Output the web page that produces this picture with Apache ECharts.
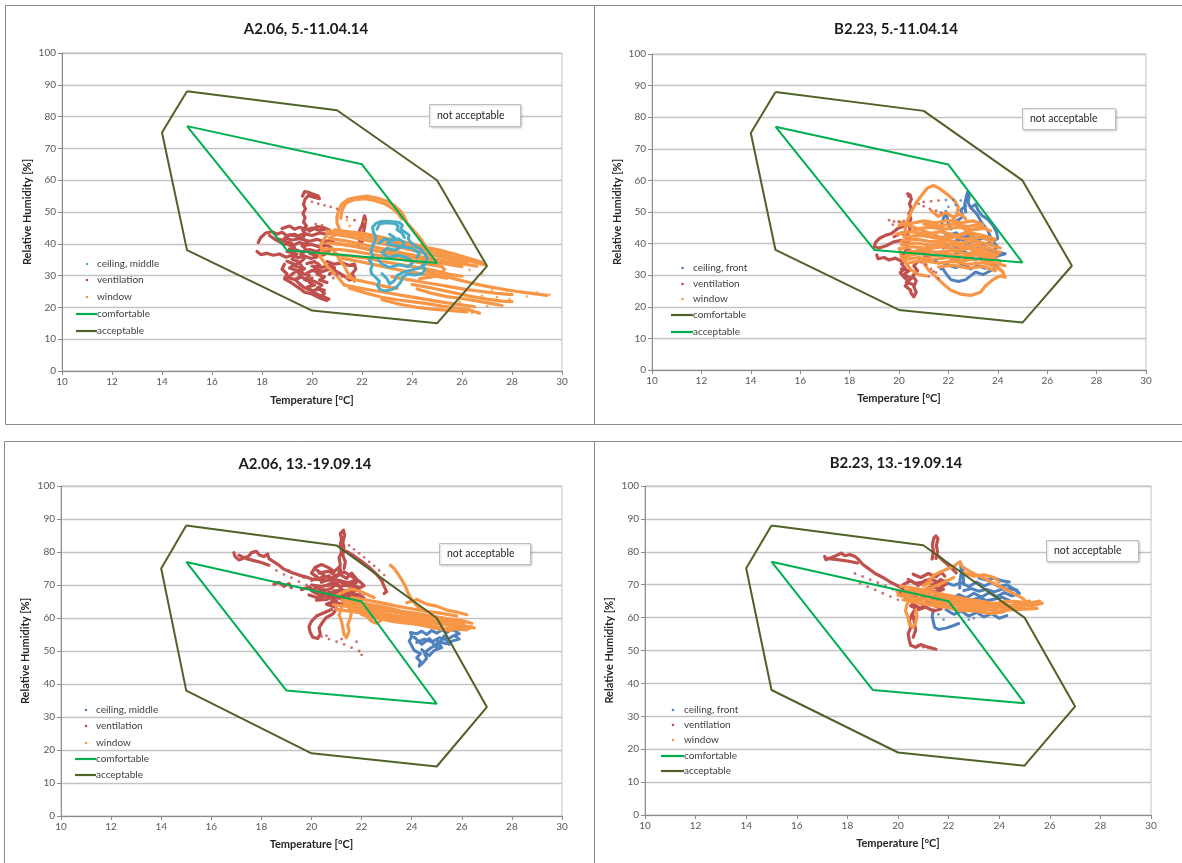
<!DOCTYPE html>
<html>
<head>
<meta charset="utf-8">
<script src="https://cdn.jsdelivr.net/npm/echarts@6/dist/echarts.min.js"></script>
<style>
html,body{margin:0;padding:0;background:#fff;}
#chart{width:1182px;height:863px;}
</style>
</head>
<body>
<div id="chart"></div>
<script>
// Comfort zones in the temperature / relative humidity plane
const comfortableZone = [[15,77],[22,65],[25,34],[19,38],[15,77]];
const acceptableZone  = [[15,88],[21,82],[25,60],[27,33],[25,15],[20,19],[15,38],[14,75],[15,88]];

const xRange = [10, 30, 2];
const yRange = [0, 100, 10];

// ---------- A2.06, 5.-11.04.14 : measured trajectories [°C, %] ----------
const ceilA_apr = [
  [[22.45,43.8],[22.42,45.2],[22.55,46.4],[22.75,47.0],[23.0,47.1],[23.25,46.9],[23.5,46.7],[23.62,45.8],[23.55,44.6],[23.7,43.8],[23.88,42.8],[23.85,41.6],[23.95,40.4],[24.15,39.2],[24.35,38.2],[24.5,37.0],[24.6,35.6],[24.58,34.2],[24.45,33.0],[24.52,31.8],[24.4,30.6],[24.1,30.2],[23.8,30.5],[23.62,29.4],[23.55,28.0],[23.4,26.6],[23.2,25.6],[22.95,25.2],[22.72,25.6],[22.62,26.8],[22.7,28.2],[22.55,29.4],[22.38,30.6],[22.35,32.0],[22.42,33.4],[22.3,34.8],[22.45,36.2],[22.35,37.6],[22.42,39.2],[22.5,40.6],[22.55,42.2],[22.45,43.8]],
  [[22.6,44.6],[22.7,46.2],[22.95,46.6],[23.3,46.4],[23.45,45.6],[23.4,44.4],[23.6,43.4],[23.7,42.0]],
  [[22.7,40.2],[22.9,41.6],[23.2,41.0],[23.45,41.6],[23.7,40.4],[23.6,39.0],[23.3,38.0],[23.0,38.6],[22.8,37.2],[23.05,35.8],[23.45,36.4],[23.8,35.6],[24.05,34.2],[23.85,32.8],[23.5,33.4],[23.1,32.6],[22.8,33.6],[22.65,35.0]],
  [[22.8,30.6],[23.0,29.0],[23.1,27.4],[23.3,28.4],[23.4,30.0],[23.7,31.2],[24.0,31.8],[24.3,32.4],[24.5,33.6]],
  [[23.1,43.0],[23.3,42.0],[23.0,40.0],[23.5,39.2],[24.0,38.6],[24.3,37.0],[24.2,35.8]]
];
const ventA_apr = [
  [[19.62,55.0],[19.7,56.4],[19.85,56.2],[20.05,55.6],[20.25,55.0],[20.3,54.2],[20.1,54.6],[19.85,55.2],[19.72,54.0],[19.66,52.4],[19.74,51.0],[19.64,49.6],[19.72,48.2],[19.66,46.8],[19.78,45.6],[19.62,44.4],[19.74,43.0],[19.6,41.8],[19.82,40.6],[19.64,39.2],[19.78,38.0],[19.55,36.6],[19.7,35.4],[19.5,34.0],[19.62,32.6],[19.42,31.2],[19.55,30.0],[19.35,28.6],[19.5,27.4],[19.7,26.2],[19.95,25.4],[20.1,24.6],[20.3,23.8],[20.5,23.2],[20.68,22.6]],
  [[18.8,44.8],[19.1,45.6],[19.3,44.6],[19.5,45.2],[19.8,44.4],[20.0,45.0],[20.3,44.2],[20.6,44.6],[20.8,43.8],[20.6,43.0],[20.3,43.4],[20.0,42.6],[19.7,43.2],[19.4,42.4],[19.1,42.8],[18.9,41.8],[19.2,41.2],[19.5,41.6],[19.9,40.8],[20.2,41.4],[20.5,40.6],[20.75,41.2],[20.9,40.2]],
  [[17.85,40.4],[17.95,42.0],[18.15,43.4],[18.4,43.8],[18.6,43.0],[18.8,43.6],[19.0,42.6],[19.3,43.0],[19.5,42.2]],
  [[18.3,42.6],[18.5,41.5],[18.7,40.6],[18.9,39.8],[19.1,40.4],[19.3,39.6]],
  [[17.8,37.6],[17.95,36.6],[18.2,37.0],[18.45,36.4],[18.7,36.8],[18.95,35.8],[19.2,36.4],[19.45,35.6],[19.7,36.2],[19.95,35.4],[20.2,35.9]],
  [[19.0,34.5],[19.3,33.6],[19.1,32.4],[19.4,31.6],[19.2,30.4],[19.0,29.4],[19.3,28.8],[19.6,29.6],[19.8,28.4],[20.0,29.2],[19.9,27.8],[20.1,27.0],[19.8,26.4],[20.0,25.2],[20.3,25.8],[20.5,24.4],[20.35,23.4],[20.6,22.8]],
  [[19.8,33.8],[20.1,34.4],[20.3,33.4],[20.1,32.2],[20.4,31.4],[20.2,30.4],[20.5,29.6],[20.3,28.6],[20.6,27.8]],
  [[19.1,38.4],[19.4,38.0],[19.6,37.4],[19.9,38.2],[20.2,37.6],[20.4,38.4],[20.6,37.2]],
  [[20.6,34.4],[20.9,33.6],[21.2,34.0],[21.5,33.2],[21.7,33.6],[21.75,32.0],[21.6,30.6],[21.7,29.2],[21.5,28.6],[21.3,29.8],[21.1,30.8],[20.9,31.6],[20.7,30.4]],
  [[21.85,39.4],[21.9,41.0],[21.95,42.6],[21.9,44.2],[22.0,45.8],[22.05,47.2],[22.1,48.8],[22.15,47.6],[22.1,45.4],[22.05,43.0],[22.0,40.6]],
  [[19.0,40.0],[19.3,38.8],[19.0,37.6],[19.4,36.8],[19.2,35.2],[19.5,34.2],[19.3,33.0],[19.7,32.2],[19.5,31.0],[19.9,30.0],[19.7,28.8],[20.1,28.2],[20.4,27.0],[20.2,26.0],[20.5,25.4]],
  [[18.9,33.6],[18.8,32.0],[19.0,30.6],[18.9,29.0],[19.2,27.6],[19.5,26.0],[19.7,24.8],[20.0,24.2],[20.3,23.0],[20.6,22.2]],
  [[19.6,39.4],[20.0,39.8],[20.3,39.0],[20.6,39.6],[20.8,38.6],[20.5,36.6],[20.2,36.2],[19.9,37.0]],
  [[20.0,33.0],[20.4,32.6],[20.7,33.2],[20.9,32.4],[20.6,31.8],[20.3,31.0],[20.0,31.6],[19.8,30.8]],
  [[18.6,41.6],[18.9,41.0],[19.2,39.4],[19.5,40.4],[19.8,39.6]],
  [[19.9,44.0],[20.2,45.4],[20.5,45.0],[20.7,44.2]]
];
const ventA_aprDots = [[20.0,53.2],[20.25,52.6],[20.5,52.1],[20.75,51.6],[21.0,51.0],[20.15,46.2],[20.4,45.9],[20.7,30.6],[21.0,30.3],[20.85,29.2],[21.2,29.6],[21.4,48.4],[21.7,47.4],[20.9,32.5],[20.2,31.0],[20.45,29.0]];
const winA_apr = [
  [[21.0,48.6],[21.08,50.8],[21.2,52.6],[21.45,54.0],[21.8,54.6],[22.2,55.0],[22.6,54.4],[23.0,53.4],[23.3,52.0],[23.55,50.2],[23.7,48.4],[23.8,46.6],[24.0,44.8],[24.2,43.0],[24.4,41.0],[24.55,39.2],[24.7,37.6]],
  [[21.15,48.0],[21.2,50.5],[21.35,52.8],[21.7,53.9],[22.1,54.2],[22.5,53.6],[22.9,52.6],[23.2,51.2],[23.45,49.4],[23.6,47.8]],
  [[21.0,48.6],[21.0,46.6],[21.1,44.6],[20.95,43.0],[20.7,41.8]],
  [[20.6,44.0],[21.2,43.6],[21.8,42.8],[22.4,41.8],[23.0,40.8],[23.6,39.8],[24.2,38.8],[24.8,37.6],[25.4,36.4],[26.0,35.2],[26.6,34.0],[26.9,33.4]],
  [[20.8,43.0],[21.4,42.4],[22.0,41.4],[22.6,40.4],[23.2,39.4],[23.8,38.4],[24.4,37.2],[25.0,36.2],[25.6,35.2],[26.2,34.2]],
  [[20.7,41.6],[21.3,41.0],[21.9,40.0],[22.5,39.0],[23.1,38.0],[23.7,37.0],[24.3,36.0],[24.9,35.2],[25.5,34.4],[26.1,33.6],[26.6,33.0]],
  [[20.9,40.2],[21.5,39.6],[22.1,38.6],[22.7,37.6],[23.3,36.6],[23.9,35.8],[24.5,35.0],[25.1,34.2]],
  [[20.5,38.4],[21.1,38.2],[21.7,37.6],[22.3,36.8],[22.9,36.0],[23.5,35.2],[24.1,34.4],[24.6,33.6],[25.2,32.8]],
  [[20.4,37.2],[20.9,36.6],[21.5,36.2],[22.1,35.6],[22.7,34.6],[23.3,33.8],[23.9,33.0],[24.5,32.2],[25.0,31.4],[25.5,30.4],[26.0,29.8]],
  [[20.65,43.4],[20.5,41.6],[20.35,39.8],[20.4,38.0],[20.3,36.2],[20.45,34.6],[20.6,33.0],[20.8,31.4],[21.0,29.8],[21.15,28.4],[21.3,27.0]],
  [[20.8,38.4],[21.0,36.6],[21.1,34.8],[21.3,33.0],[21.4,31.2],[21.55,29.6],[21.7,28.2]],
  [[21.3,27.0],[21.8,26.2],[22.4,25.4],[23.0,24.6],[23.6,23.8],[24.2,23.0],[24.8,22.2],[25.4,21.4],[26.0,20.8],[26.5,20.2]],
  [[21.5,26.0],[22.2,24.4],[22.8,23.2],[23.4,22.4],[24.0,21.8],[24.6,21.2],[25.2,20.4],[25.8,19.8],[26.3,19.2],[26.7,18.2]],
  [[22.8,22.4],[23.5,21.0],[24.2,20.0],[24.9,19.4],[25.6,19.0],[26.2,18.6]],
  [[23.2,29.6],[23.8,28.8],[24.4,28.0],[25.0,27.2],[25.6,26.4],[26.2,25.6],[26.8,25.0],[27.4,24.4],[28.0,24.0]],
  [[24.6,31.2],[25.2,30.0],[25.8,28.8],[26.4,27.6],[27.0,26.6],[27.6,25.8],[28.2,25.0],[28.8,24.4],[29.4,23.8]],
  [[24.0,27.2],[24.6,26.4],[25.2,25.4],[25.8,24.4],[26.4,23.4],[27.0,22.6],[27.6,22.0],[28.0,21.8]],
  [[24.2,25.8],[24.8,24.4],[25.4,23.4],[26.0,22.8],[26.6,22.0],[27.2,21.2],[27.6,20.6]],
  [[24.6,36.0],[25.0,34.0],[25.3,32.0],[25.2,30.4],[24.8,29.6],[24.3,29.0]],
  [[21.4,29.6],[21.9,28.4],[22.4,27.6],[22.9,26.6],[23.4,26.0]],
  [[20.9,44.4],[21.5,43.8],[22.1,43.2],[22.7,42.2],[23.3,41.2],[23.9,40.2],[24.5,39.0],[25.1,38.0],[25.7,36.8],[26.3,35.4],[26.8,34.2]],
  [[20.6,40.2],[21.2,39.8],[21.8,39.0],[22.4,38.0],[23.0,37.2],[23.6,36.2],[24.2,35.6],[24.8,34.6],[25.4,33.6],[26.0,32.8]],
  [[21.2,35.4],[21.8,34.6],[22.4,33.6],[23.0,32.6],[23.6,31.6],[24.2,30.8],[24.8,30.0],[25.4,29.2]]
];
const winA_aprDots = [[27.2,25.6],[27.8,25.2],[28.4,24.8],[29.0,24.6],[29.5,24.0],[27.9,22.6],[27.0,20.4],[26.4,18.2],[25.9,21.8],[26.8,23.6],[28.6,23.4],[27.4,23.2],[21.5,45.6],[21.4,47.4],[22.1,47.0],[26.3,31.8],[26.8,30.6]];

// ---------- B2.23, 5.-11.04.14 ----------
const ceilB_apr = [
  [[22.7,50.0],[22.66,52.4],[22.72,54.6],[22.78,56.4],[22.84,55.0],[22.8,53.0],[22.9,51.4],[23.05,50.2],[23.2,48.8],[23.3,47.2],[23.45,45.6],[23.6,44.0],[23.7,42.2]],
  [[21.75,44.0],[21.72,46.0],[21.8,48.0],[21.9,50.2],[21.95,48.4],[22.0,46.4],[22.1,44.6]],
  [[21.7,44.0],[22.0,42.6],[22.3,43.4],[22.6,41.8],[22.9,42.8],[23.2,41.2],[23.5,42.0],[23.8,40.6],[24.0,39.0],[23.8,37.6],[24.1,37.0],[24.3,36.8],[24.0,36.2],[23.7,35.4],[23.4,36.2],[23.1,34.8],[22.8,35.6],[22.5,34.0],[22.2,35.0],[21.9,33.6],[21.7,32.0]],
  [[21.8,38.6],[22.1,39.8],[22.4,38.4],[22.7,39.4],[23.0,38.0],[23.3,38.8],[23.6,37.2],[23.9,38.2]],
  [[21.8,31.8],[21.95,30.0],[22.1,28.6],[22.4,28.0],[22.7,28.6],[22.9,29.8],[23.1,31.0],[23.4,30.2],[23.7,31.4],[24.0,32.6],[23.8,34.0]],
  [[22.9,51.4],[23.1,52.4],[23.2,50.6],[23.35,49.0],[23.6,47.6],[23.8,45.8],[23.95,43.6],[24.0,41.6],[23.75,40.4]],
  [[23.6,38.4],[23.9,37.4],[24.25,36.8],[23.95,36.0],[23.7,35.2]],
  [[22.2,40.6],[22.5,41.4],[22.8,40.2],[23.1,41.0],[23.4,39.6],[23.7,40.2]],
  [[22.3,36.8],[22.6,37.6],[22.9,36.4],[23.2,37.2],[23.5,36.0],[23.8,36.6]],
  [[22.0,33.2],[22.3,32.4],[22.6,33.4],[22.9,32.0],[23.2,33.0],[23.5,32.2]],
  [[22.3,47.0],[22.6,48.6],[22.5,50.6],[22.7,52.0]]
];
const ceilB_aprDots = [[21.9,53.8],[22.2,53.8],[22.5,53.6],[22.3,52.2],[22.0,51.6],[21.6,36.4],[21.5,34.6]];
const ventB_apr = [
  [[20.4,55.0],[20.35,55.8],[20.45,55.4],[20.5,54.0],[20.42,52.6],[20.5,51.0],[20.4,49.4],[20.48,47.8],[20.38,46.2],[20.45,44.6],[20.35,43.0],[20.45,41.4],[20.3,39.8],[20.4,38.2]],
  [[20.2,45.6],[19.95,44.8],[19.7,43.2],[19.45,42.6],[19.2,41.6],[19.05,40.4],[19.0,39.0],[19.2,38.6],[19.5,39.4],[19.8,40.6],[20.1,41.0],[20.3,40.2]],
  [[19.1,36.4],[19.15,35.2],[19.4,35.6],[19.6,34.8],[19.85,35.4],[20.05,34.6],[20.25,35.2]],
  [[20.3,38.0],[20.15,36.6],[20.3,35.0],[20.1,33.6],[20.25,32.2],[20.05,30.8],[20.2,29.4],[20.4,28.0],[20.25,26.6],[20.45,25.4],[20.5,24.2],[20.6,23.2],[20.7,24.6],[20.6,26.4],[20.7,28.2],[20.55,29.8],[20.75,31.4],[20.6,33.0],[20.8,34.6]],
  [[20.5,37.6],[20.8,36.8],[21.1,37.4],[21.3,36.2],[21.0,35.4],[20.9,34.2]],
  [[20.1,32.0],[20.4,31.4],[20.2,30.2],[20.5,29.0],[20.3,27.8],[20.6,27.0]],
  [[19.8,42.2],[20.1,43.4],[20.3,42.0]]
];
const ventB_aprDots = [[19.6,47.4],[19.8,47.0],[20.0,46.8],[19.75,46.0],[20.2,47.2],[20.8,52.6],[21.0,51.8],[21.25,51.0],[21.5,50.4],[21.7,49.8],[21.1,33.4],[21.3,32.0],[21.5,30.8],[21.2,29.6],[21.6,29.0],[21.4,31.2],[21.0,53.2],[21.3,53.4],[21.6,53.6]];
const winB_apr = [
  [[20.2,42.0],[20.25,44.6],[20.35,47.4],[20.5,50.2],[20.7,53.0],[20.95,55.6],[21.15,57.6],[21.4,58.4],[21.65,57.4],[21.95,55.6],[22.25,53.6],[22.4,51.6],[22.35,49.4],[22.2,47.6]],
  [[20.0,45.8],[20.5,46.4],[21.0,47.2],[21.5,46.6],[22.0,47.4],[22.5,46.6],[23.0,47.2],[23.4,46.0]],
  [[19.9,43.0],[20.5,43.8],[21.1,43.0],[21.7,43.8],[22.3,42.6],[22.9,43.4],[23.5,42.4],[23.9,41.4]],
  [[20.1,40.8],[20.7,41.4],[21.3,40.6],[21.9,41.2],[22.5,40.2],[23.1,40.8],[23.7,39.6],[24.1,38.6]],
  [[20.0,38.4],[20.6,39.0],[21.2,38.4],[21.8,39.0],[22.4,38.0],[23.0,38.6],[23.6,37.4],[24.0,36.4]],
  [[20.2,36.0],[20.8,36.8],[21.4,36.2],[22.0,36.8],[22.6,35.8],[23.2,36.4],[23.8,35.0]],
  [[20.4,34.0],[21.0,34.6],[21.6,33.8],[22.2,34.4],[22.8,33.4],[23.4,34.0],[23.9,32.6],[24.2,31.2]],
  [[20.6,44.4],[21.2,45.2],[21.8,44.6],[22.4,45.2],[23.0,44.4],[23.5,44.8]],
  [[20.0,47.0],[20.6,45.2],[21.2,43.4],[21.8,41.6],[22.4,39.8],[23.0,38.0],[23.6,36.2],[24.1,34.4]],
  [[20.3,36.6],[21.0,38.4],[21.6,40.2],[22.2,42.0],[22.8,43.8],[23.3,45.4],[23.7,44.0]],
  [[21.0,33.8],[21.2,31.6],[21.5,29.4],[21.8,27.2],[22.1,25.2],[22.5,24.0],[22.9,23.6],[23.3,24.6],[23.5,26.6],[23.8,28.6],[24.1,29.8],[24.3,29.4],[24.2,31.0],[24.0,32.6]],
  [[20.05,37.8],[20.1,35.6],[20.3,33.6],[20.5,31.6],[20.8,30.2],[21.1,29.8]],
  [[21.3,50.4],[21.6,48.6],[21.9,49.8],[22.2,48.4],[22.5,49.4],[22.7,47.8]],
  [[20.3,42.2],[20.9,42.6],[21.5,41.8],[22.1,42.4],[22.7,41.4],[23.3,42.0],[23.8,40.6]],
  [[20.1,39.6],[20.7,40.2],[21.3,39.4],[21.9,40.0],[22.5,39.0],[23.1,39.6],[23.7,38.4],[24.1,37.2]],
  [[20.3,37.2],[20.9,37.8],[21.5,37.2],[22.1,37.8],[22.7,36.8],[23.3,37.4],[23.9,36.2]],
  [[20.2,35.0],[20.8,35.6],[21.4,35.0],[22.0,35.6],[22.6,34.6],[23.2,35.2],[23.8,34.0],[24.3,33.0]],
  [[21.0,46.2],[21.6,45.6],[22.2,46.2],[22.8,45.4],[23.2,46.0]],
  [[22.2,47.6],[22.6,45.0],[23.0,42.0],[23.3,39.0],[23.6,36.0],[23.8,33.2]],
  [[21.6,32.6],[22.2,33.2],[22.8,32.2],[23.4,32.8],[23.9,31.4]]
];

// ---------- A2.06, 13.-19.09.14 ----------
const ceilA_sep = [
  [[24.3,45.4],[24.35,46.8],[24.2,48.0],[24.35,49.2],[24.1,50.2],[24.0,51.6],[23.9,53.0],[24.0,54.4],[23.95,55.6],[24.2,55.2],[24.4,56.0],[24.6,55.0],[24.8,56.2],[25.0,55.4],[25.2,56.4],[25.4,55.6],[25.6,56.6],[25.85,55.6],[25.75,54.4],[25.9,53.6],[25.6,53.0],[25.4,52.2],[25.1,52.8],[24.9,51.6],[24.7,50.6],[24.5,49.4],[24.6,47.8],[24.45,46.4],[24.3,45.4]],
  [[24.2,52.6],[24.5,53.6],[24.8,52.8],[25.1,54.0],[25.4,53.4],[25.7,54.8],[25.9,55.2]],
  [[24.1,54.2],[24.4,52.0],[24.7,53.8],[25.0,51.0],[25.3,54.6],[25.5,52.0]],
  [[24.4,50.4],[24.7,48.6],[24.9,50.2],[25.2,51.0],[25.0,53.2]]
];
const ventA_sep = [
  [[16.9,79.8],[16.95,78.6],[17.1,77.6],[17.3,78.2],[17.5,78.8],[17.6,79.8],[17.8,80.2],[17.9,79.2],[18.1,78.6],[18.25,79.4],[18.3,78.0],[18.5,77.0],[18.7,76.0],[18.9,74.8],[19.2,73.8],[19.5,73.0],[19.8,72.4],[20.1,71.6]],
  [[17.1,79.0],[17.4,78.0],[17.7,77.4],[18.0,76.8],[18.3,76.0]],
  [[18.5,70.2],[18.7,70.8],[18.9,69.6],[19.1,70.4],[19.2,69.2]],
  [[20.2,74.6],[20.5,73.0],[20.3,71.6],[20.7,72.8],[20.9,71.0],[20.6,69.8],[21.0,70.4],[21.2,68.8],[20.9,67.6],[21.3,67.0],[21.5,68.6],[21.7,67.2],[21.4,65.8],[21.0,66.4],[20.8,65.0],[21.2,64.2],[21.5,64.8],[21.8,63.8]],
  [[20.4,70.8],[20.8,72.0],[21.1,73.4],[21.4,72.0],[21.6,73.6],[21.8,71.8],[21.5,70.6],[21.8,69.4],[21.4,69.8],[21.1,71.2],[20.8,69.0],[20.5,68.2],[20.2,69.2],[20.0,68.2],[20.3,67.0],[20.7,66.4],[21.0,65.2],[20.6,64.2],[20.9,63.4]],
  [[20.0,70.0],[20.4,69.6],[20.8,70.2],[21.2,69.6],[21.6,70.4],[21.9,69.2],[21.7,68.0],[21.3,68.4],[20.9,68.2],[20.5,66.6],[20.2,65.4],[20.6,65.6],[21.0,67.0],[21.4,66.6],[21.8,66.2],[22.0,65.4]],
  [[19.9,67.0],[20.3,66.0],[20.7,67.8],[21.1,66.0],[21.5,67.4],[21.9,67.0],[22.1,66.0]],
  [[20.3,72.0],[20.0,73.6],[20.15,75.4],[20.4,76.2],[20.7,75.2],[20.9,74.0],[21.1,75.4],[21.2,73.6]],
  [[21.1,74.0],[21.15,76.2],[21.1,78.2],[21.2,80.0],[21.15,82.0],[21.2,84.0],[21.15,85.6],[21.28,86.6],[21.32,85.0],[21.25,83.0],[21.3,81.2],[21.25,79.0],[21.35,77.0],[21.3,75.0]],
  [[21.4,80.2],[21.7,78.8],[22.0,77.2],[22.3,75.4],[22.6,73.2],[22.8,71.4],[22.9,69.6],[23.0,68.0],[22.9,67.4]],
  [[20.8,62.6],[20.5,61.6],[20.2,60.6],[20.0,59.0],[19.9,57.4],[19.95,55.6],[20.05,54.2],[20.25,53.8],[20.35,55.2],[20.3,57.0],[20.45,58.8],[20.6,60.2],[20.85,61.2],[21.0,62.8]],
  [[20.3,73.6],[20.7,74.2],[21.0,72.6],[21.3,74.0],[21.6,72.6],[21.9,71.2],[22.1,69.8],[21.8,68.6],[22.1,67.4]],
  [[20.1,71.8],[20.6,71.4],[21.0,71.6],[21.4,70.8],[21.8,70.8]],
  [[20.4,67.4],[20.8,66.8],[21.2,65.8],[21.6,65.4],[21.9,64.4],[22.2,63.6]],
  [[19.6,68.6],[19.9,69.4],[20.2,67.8],[20.5,68.6]]
];
const ventA_sepDots = [[18.6,74.4],[18.9,73.2],[19.2,72.2],[19.5,71.0],[19.8,70.0],[20.1,68.8],[18.8,75.4],[19.1,74.4],[19.4,73.4],[19.7,72.2],[20.0,71.2],[20.4,54.4],[20.7,53.6],[21.0,52.8],[21.3,52.0],[21.6,51.0],[21.9,50.0],[22.0,48.8],[20.6,54.6],[21.2,53.6],[21.8,52.8],[21.5,82.0],[21.7,80.8],[21.9,79.6],[22.1,78.4],[22.3,77.0],[22.5,75.8],[22.7,74.4],[22.9,73.0]];
const winA_sep = [
  [[20.9,64.0],[21.5,63.4],[22.1,62.6],[22.7,61.6],[23.3,60.8],[23.9,59.8],[24.5,59.0],[25.1,58.2],[25.7,57.8],[26.3,57.4],[26.5,57.0]],
  [[21.0,62.6],[21.6,62.0],[22.2,61.2],[22.8,60.4],[23.4,59.8],[24.0,59.0],[24.6,58.0],[25.2,57.0],[25.8,56.6],[26.2,56.4]],
  [[21.2,65.4],[21.8,64.8],[22.4,64.0],[23.0,63.2],[23.6,62.0],[24.2,61.4],[24.8,60.6],[25.4,59.8],[26.0,59.2],[26.4,58.4]],
  [[21.4,63.8],[22.0,63.6],[22.6,62.4],[23.2,62.0],[23.8,61.0],[24.4,60.2],[25.0,60.0],[25.6,59.0],[26.1,58.6]],
  [[22.0,61.0],[22.6,60.0],[23.2,59.0],[23.8,58.6],[24.4,57.8],[25.0,56.8],[25.6,56.2]],
  [[21.6,66.2],[22.2,65.4],[22.8,64.6],[23.4,63.6],[24.0,62.8],[24.6,62.0],[25.2,61.4],[25.8,60.6]],
  [[23.15,76.0],[23.3,75.0],[23.45,73.4],[23.6,71.6],[23.75,69.6],[23.85,67.6],[24.0,65.6],[24.2,63.8],[24.4,62.4]],
  [[21.0,66.8],[21.3,68.0],[21.6,68.8],[21.9,68.2],[22.2,67.2],[22.5,66.2]],
  [[21.2,63.0],[21.1,61.0],[21.2,59.0],[21.25,57.0],[21.3,55.0],[21.4,54.0],[21.5,56.0],[21.45,58.0],[21.55,60.0],[21.6,62.0]],
  [[22.1,62.0],[22.2,60.4],[22.4,59.0],[22.6,58.4],[22.8,59.4],[22.7,60.8]],
  [[23.8,64.6],[24.2,65.6],[24.6,64.2],[25.0,63.6],[25.4,62.4],[25.8,61.8],[26.2,61.0]],
  [[21.3,64.6],[21.9,63.8],[22.5,63.2],[23.1,62.4],[23.7,61.4],[24.3,60.8],[24.9,59.4],[25.5,58.8],[26.1,57.8]],
  [[21.5,62.8],[22.1,62.2],[22.7,61.2],[23.3,60.2],[23.9,60.4],[24.5,59.6],[25.1,58.6],[25.7,57.4],[26.3,56.8]],
  [[22.4,60.2],[23.0,59.6],[23.6,58.6],[24.2,58.2],[24.8,57.4]]
];

// ---------- B2.23, 13.-19.09.14 ----------
const ceilB_sep = [
  [[22.44,69.0],[22.45,71.4],[22.5,73.6],[22.48,75.8],[22.56,74.6],[22.58,72.2],[22.6,70.0]],
  [[21.9,70.6],[22.2,69.8],[22.5,70.6],[22.8,69.4],[23.1,70.8],[23.4,69.6],[23.7,70.6],[24.0,69.4],[24.3,70.0],[24.6,68.6],[24.8,67.4],[24.5,66.6],[24.2,67.6],[23.9,66.4],[23.6,67.6],[23.3,66.2],[23.0,67.4],[22.7,66.0],[22.4,67.0],[22.1,65.6],[21.8,66.6]],
  [[21.8,64.6],[22.1,63.4],[22.4,64.6],[22.7,63.2],[23.0,64.6],[23.3,63.0],[23.6,64.4],[23.9,62.8],[24.2,64.0],[24.5,62.6],[24.8,63.4]],
  [[21.9,62.4],[22.2,61.0],[22.5,62.0],[22.8,60.4],[23.1,61.6],[23.4,60.2],[23.7,61.2],[24.0,59.8],[24.3,60.6]],
  [[22.6,68.2],[22.9,68.8],[23.2,68.0],[23.5,68.6],[23.8,67.8],[24.1,68.6],[24.4,68.8],[24.7,68.4]],
  [[23.2,72.0],[23.5,71.4],[23.8,72.0],[24.1,71.2],[24.4,70.8]],
  [[21.4,62.4],[21.35,60.4],[21.4,58.6],[21.45,57.0],[21.6,56.4],[21.9,56.8],[22.2,57.6],[22.4,58.2]],
  [[22.9,65.4],[23.2,66.0],[23.5,65.2],[23.8,65.6],[24.1,66.2],[24.4,65.2]]
];
const ceilB_sepDots = [[22.6,58.8],[22.8,59.4],[23.0,59.8],[21.6,61.0],[21.8,59.4]];
const ventB_sep = [
  [[17.1,78.6],[17.15,77.6],[17.35,78.2],[17.55,78.8],[17.75,79.6],[17.9,78.8],[18.1,79.2],[18.3,78.6],[18.45,77.6],[18.6,76.2],[18.85,74.8],[19.1,73.4],[19.4,72.2],[19.7,70.8],[20.0,69.6],[20.2,68.8]],
  [[17.2,78.0],[17.6,77.6],[18.0,77.2],[18.4,76.6]],
  [[21.35,77.8],[21.4,80.0],[21.36,82.2],[21.42,84.2],[21.5,84.8],[21.58,84.0],[21.52,82.0],[21.56,80.0],[21.5,78.0]],
  [[21.55,79.0],[21.75,77.6],[21.95,76.2],[22.15,74.8],[22.3,73.6]],
  [[20.2,70.0],[20.5,71.2],[20.8,69.8],[21.1,71.4],[21.4,70.0],[21.7,71.6],[21.9,70.2],[21.6,68.8],[21.3,69.4],[21.0,68.2],[20.7,68.8],[20.4,67.6],[20.7,66.8],[21.0,67.4],[21.3,66.2],[21.6,67.0],[21.9,65.8],[21.6,64.6],[21.3,65.2],[21.0,64.0],[20.7,64.8],[20.5,63.6],[20.8,62.4],[21.1,63.2],[21.4,62.0],[21.7,62.6]],
  [[20.6,73.2],[20.9,72.2],[21.2,73.4],[21.5,72.4],[21.7,73.8],[21.85,72.6]],
  [[20.3,65.8],[20.6,66.4],[20.9,65.6],[21.2,66.8],[21.5,65.4],[21.8,66.2],[22.0,64.4]],
  [[20.7,62.8],[20.55,61.0],[20.45,59.0],[20.5,57.0],[20.4,55.0],[20.45,53.0],[20.5,51.6],[20.7,51.0],[20.9,51.8],[21.1,51.2],[21.3,50.8],[21.5,50.4]],
  [[20.6,60.6],[20.65,58.4],[20.7,56.2],[20.6,54.0]],
  [[20.4,71.6],[20.7,70.4],[21.0,70.8],[21.3,71.8],[21.6,70.6],[21.9,71.2]],
  [[20.5,68.2],[20.9,67.0],[21.2,68.4],[21.5,67.8],[21.8,68.6]],
  [[20.6,64.0],[20.9,62.8],[21.2,64.6],[21.5,63.4],[21.8,64.0]]
];
const ventB_sepDots = [[18.3,73.4],[18.6,72.5],[18.9,71.5],[19.2,70.6],[19.5,69.6],[19.8,68.6],[20.1,67.6],[18.5,70.4],[18.8,69.4],[19.1,68.4],[19.4,67.4],[19.7,66.4],[20.0,65.4],[20.8,51.6],[21.0,51.0],[21.2,50.8]];
const winB_sep = [
  [[19.95,68.0],[20.4,67.4],[20.9,66.8],[21.4,66.0],[21.9,65.2],[22.4,64.4],[22.9,63.8],[23.4,63.4],[23.9,63.0],[24.4,62.8],[24.9,63.4],[25.4,63.8],[25.7,64.4]],
  [[20.0,66.8],[20.5,66.0],[21.0,65.6],[21.5,64.8],[22.0,64.2],[22.5,63.6],[23.0,63.0],[23.5,62.4],[24.0,62.0],[24.5,62.4],[25.0,62.6],[25.5,62.8]],
  [[20.1,69.6],[20.6,69.0],[21.1,68.2],[21.6,67.4],[22.1,66.6],[22.6,65.8],[23.1,65.2],[23.6,64.6],[24.1,64.0],[24.6,63.6],[25.1,64.2],[25.6,65.0]],
  [[20.3,68.4],[20.8,67.8],[21.3,67.6],[21.8,66.6],[22.3,66.0],[22.8,65.2],[23.3,64.4],[23.8,64.2],[24.3,65.0],[24.8,64.8],[25.3,64.0]],
  [[20.2,65.4],[20.7,65.0],[21.2,64.2],[21.7,63.8],[22.2,63.0],[22.7,62.6],[23.2,61.8],[23.7,61.2],[24.2,61.8]],
  [[21.4,72.8],[21.6,73.6],[21.9,74.6],[22.2,75.6],[22.45,77.0],[22.55,75.4],[22.8,74.2],[23.1,73.0],[23.4,72.0],[23.7,70.8],[24.0,69.6],[24.3,68.4],[24.6,67.2],[24.9,66.0],[25.1,64.6]],
  [[21.4,72.8],[21.2,71.0],[21.0,69.6],[21.3,70.6]],
  [[22.6,73.6],[23.0,72.6],[23.4,73.0],[23.8,72.2],[24.0,70.8]],
  [[20.5,66.0],[20.35,64.0],[20.3,62.0],[20.4,60.0],[20.45,58.0],[20.6,57.0],[20.7,58.6],[20.75,60.6],[20.7,62.4]],
  [[20.0,67.4],[20.6,67.0],[21.2,68.8],[21.6,70.0],[22.0,71.4],[22.2,72.2]],
  [[20.2,67.8],[20.7,67.2],[21.2,66.6],[21.7,65.8],[22.2,65.4],[22.7,64.8],[23.2,64.2],[23.7,63.4],[24.2,63.4],[24.7,64.0],[25.2,65.0]],
  [[20.4,65.0],[20.9,64.4],[21.4,63.6],[21.9,63.2],[22.4,62.2],[22.9,62.0],[23.4,62.8]]
];

// ---------- Panel layout ----------
const COL = {cyan:'#4BACC6', blue:'#4F81BD', vent:'#C0504D', win:'#F79646', comf:'#00B050', acc:'#4F6228', grid:'#C4C4C4', axis:'#8C8C8C', text:'#595959'};
const FONT = 'Lato, "Open Sans", "Liberation Sans", sans-serif';

const panels = [
  {title:'A2.06, 5.-11.04.14', tx:301, ty:27, grid:{left:62,top:53,width:500,height:318}, nameGapX:24, nameGapY:29,
   ceilName:'ceiling, middle', ceilColor:COL.cyan, ceilZ:4, ceil:ceilA_apr, ceilDots:[], vent:ventA_apr, ventDots:ventA_aprDots, win:winA_apr, winDots:winA_aprDots,
   legend:{x:76, textX:97, rows:[264,280,297,314,331], swapped:false}, box:{x:429,y:104,w:91,h:22}},
  {title:'B2.23, 5.-11.04.14', tx:891, ty:27, grid:{left:652,top:54,width:494,height:316}, nameGapX:23, nameGapY:29,
   ceilName:'ceiling, front', ceilColor:COL.blue, ceilZ:3, ceil:ceilB_apr, ceilDots:ceilB_aprDots, vent:ventB_apr, ventDots:ventB_aprDots, win:winB_apr, winDots:[],
   legend:{x:671, textX:693, rows:[268,284,299,315,332], swapped:true}, box:{x:1022,y:108,w:93,h:21}},
  {title:'A2.06, 13.-19.09.14', tx:300, ty:462, grid:{left:61,top:486,width:501,height:330}, nameGapX:23, nameGapY:30,
   ceilName:'ceiling, middle', ceilColor:COL.blue, ceilZ:3, ceil:ceilA_sep, ceilDots:[], vent:ventA_sep, ventDots:ventA_sepDots, win:winA_sep, winDots:[],
   legend:{x:75, textX:96, rows:[710,726,743,759,775], swapped:false}, box:{x:439,y:543,w:91,h:21}},
  {title:'B2.23, 13.-19.09.14', tx:891, ty:461, grid:{left:645,top:486,width:506,height:329}, nameGapX:23, nameGapY:30,
   ceilName:'ceiling, front', ceilColor:COL.blue, ceilZ:3, ceil:ceilB_sep, ceilDots:ceilB_sepDots, vent:ventB_sep, ventDots:ventB_sepDots, win:winB_sep, winDots:[],
   legend:{x:661, textX:684, rows:[710,725,740,756,771], swapped:false}, box:{x:1046,y:540,w:92,h:21}}
];

const chart = echarts.init(document.getElementById('chart'), null, {renderer:'canvas'});

const grids = [], xAxes = [], yAxes = [], titles = [], series = [], graphics = [];

// panel frames
graphics.push({type:'rect', shape:{x:5.5,y:5.5,width:589,height:419}, style:{fill:null, stroke:'#8a8a8a', lineWidth:1}, silent:true});
graphics.push({type:'rect', shape:{x:594.5,y:5.5,width:600,height:419}, style:{fill:null, stroke:'#8a8a8a', lineWidth:1}, silent:true});
graphics.push({type:'rect', shape:{x:4.5,y:441.5,width:590,height:440}, style:{fill:null, stroke:'#8a8a8a', lineWidth:1}, silent:true});
graphics.push({type:'rect', shape:{x:594.5,y:441.5,width:600,height:440}, style:{fill:null, stroke:'#8a8a8a', lineWidth:1}, silent:true});

function addPaths(i, paths, color, width, name, z) {
  paths.forEach(p => series.push({
    type:'line', name, xAxisIndex:i, yAxisIndex:i, data:p, symbol:'none', showSymbol:false,
    lineStyle:{color, width, cap:'round', join:'round'}, silent:true, animation:false, z:z || 3
  }));
}
function addDots(i, pts, color, name) {
  if (!pts.length) return;
  series.push({type:'scatter', name, xAxisIndex:i, yAxisIndex:i, data:pts, symbolSize:2.8,
    itemStyle:{color}, silent:true, animation:false, z:3});
}

panels.forEach((p, i) => {
  grids.push(Object.assign({show:true, borderColor:COL.grid, borderWidth:1, backgroundColor:'transparent'}, p.grid));
  xAxes.push({
    type:'value', gridIndex:i, min:xRange[0], max:xRange[1], interval:xRange[2],
    name:'Temperature [°C]', nameLocation:'middle', nameGap:p.nameGapX,
    nameTextStyle:{fontFamily:FONT, fontSize:11, fontWeight:'bold', color:'#262626'},
    axisLine:{show:true, onZero:false, lineStyle:{color:COL.axis, width:1}},
    axisTick:{show:true, length:4, lineStyle:{color:COL.axis}},
    axisLabel:{fontFamily:FONT, fontSize:10, color:COL.text, margin:6},
    splitLine:{show:false}
  });
  yAxes.push({
    type:'value', gridIndex:i, min:yRange[0], max:yRange[1], interval:yRange[2],
    name:'Relative Humidity [%]', nameLocation:'middle', nameGap:p.nameGapY, nameRotate:90,
    nameTextStyle:{fontFamily:FONT, fontSize:11, fontWeight:'bold', color:'#262626'},
    axisLine:{show:true, onZero:false, lineStyle:{color:COL.axis, width:1}},
    axisTick:{show:true, length:4, lineStyle:{color:COL.axis}},
    axisLabel:{fontFamily:FONT, fontSize:10, color:COL.text, margin:6},
    splitLine:{show:true, lineStyle:{color:COL.grid, width:1.3}}
  });
  titles.push({text:p.title, left:p.tx, top:p.ty - 10, textAlign:'center',
    textStyle:{fontFamily:FONT, fontSize:15, fontWeight:'bold', color:'#1a1a1a'}});

  addPaths(i, p.ceil, p.ceilColor, 3, p.ceilName, p.ceilZ);
  addDots(i, p.ceilDots, p.ceilColor, p.ceilName);
  addPaths(i, p.vent, COL.vent, 3.2, 'ventilation', 3);
  addDots(i, p.ventDots, COL.vent, 'ventilation');
  addPaths(i, p.win, COL.win, 3.2, 'window', 3);
  addDots(i, p.winDots, COL.win, 'window');

  series.push({type:'line', name:'comfortable', xAxisIndex:i, yAxisIndex:i, data:comfortableZone, symbol:'none',
    lineStyle:{color:COL.comf, width:2}, silent:true, animation:false, z:5});
  series.push({type:'line', name:'acceptable', xAxisIndex:i, yAxisIndex:i, data:acceptableZone, symbol:'none',
    lineStyle:{color:COL.acc, width:2}, silent:true, animation:false, z:5});

  // legend
  const L = p.legend;
  const entries = [
    {label:p.ceilName, kind:'dot', color:p.ceilColor},
    {label:'ventilation', kind:'dot', color:COL.vent},
    {label:'window', kind:'dot', color:COL.win},
    {label:'comfortable', kind:'line', color:L.swapped ? COL.acc : COL.comf},
    {label:'acceptable', kind:'line', color:L.swapped ? COL.comf : COL.acc}
  ];
  entries.forEach((e, k) => {
    const y = L.rows[k];
    if (e.kind === 'dot') {
      graphics.push({type:'circle', shape:{cx:(L.x + L.textX)/2 + 0.5, cy:y, r:1.3}, style:{fill:e.color}, silent:true});
    } else {
      graphics.push({type:'line', shape:{x1:L.x, y1:y, x2:L.textX, y2:y}, style:{stroke:e.color, lineWidth:2.2}, silent:true});
    }
    graphics.push({type:'text', x:L.textX, y:y, style:{text:e.label, fontFamily:FONT, fontSize:10, fill:'#404040', textVerticalAlign:'middle', verticalAlign:'middle'}, silent:true});
  });

  // zone annotation box
  const B = p.box;
  graphics.push({type:'rect', shape:{x:B.x + 0.5, y:B.y + 0.5, width:B.w, height:B.h},
    style:{fill:'#ffffff', stroke:'#BDBDBD', lineWidth:1, shadowBlur:2, shadowColor:'rgba(0,0,0,0.15)', shadowOffsetX:1, shadowOffsetY:1}, silent:true, z:10});
  graphics.push({type:'text', x:B.x + 8, y:B.y + B.h/2 + 0.5, z:11,
    style:{text:'not acceptable', fontFamily:FONT, fontSize:10.5, fill:'#262626', verticalAlign:'middle', textVerticalAlign:'middle'}, silent:true});
});

chart.setOption({
  animation:false,
  backgroundColor:'#ffffff',
  title:titles,
  grid:grids,
  xAxis:xAxes,
  yAxis:yAxes,
  series:series,
  graphic:{elements:graphics}
});
</script>
</body>
</html>
